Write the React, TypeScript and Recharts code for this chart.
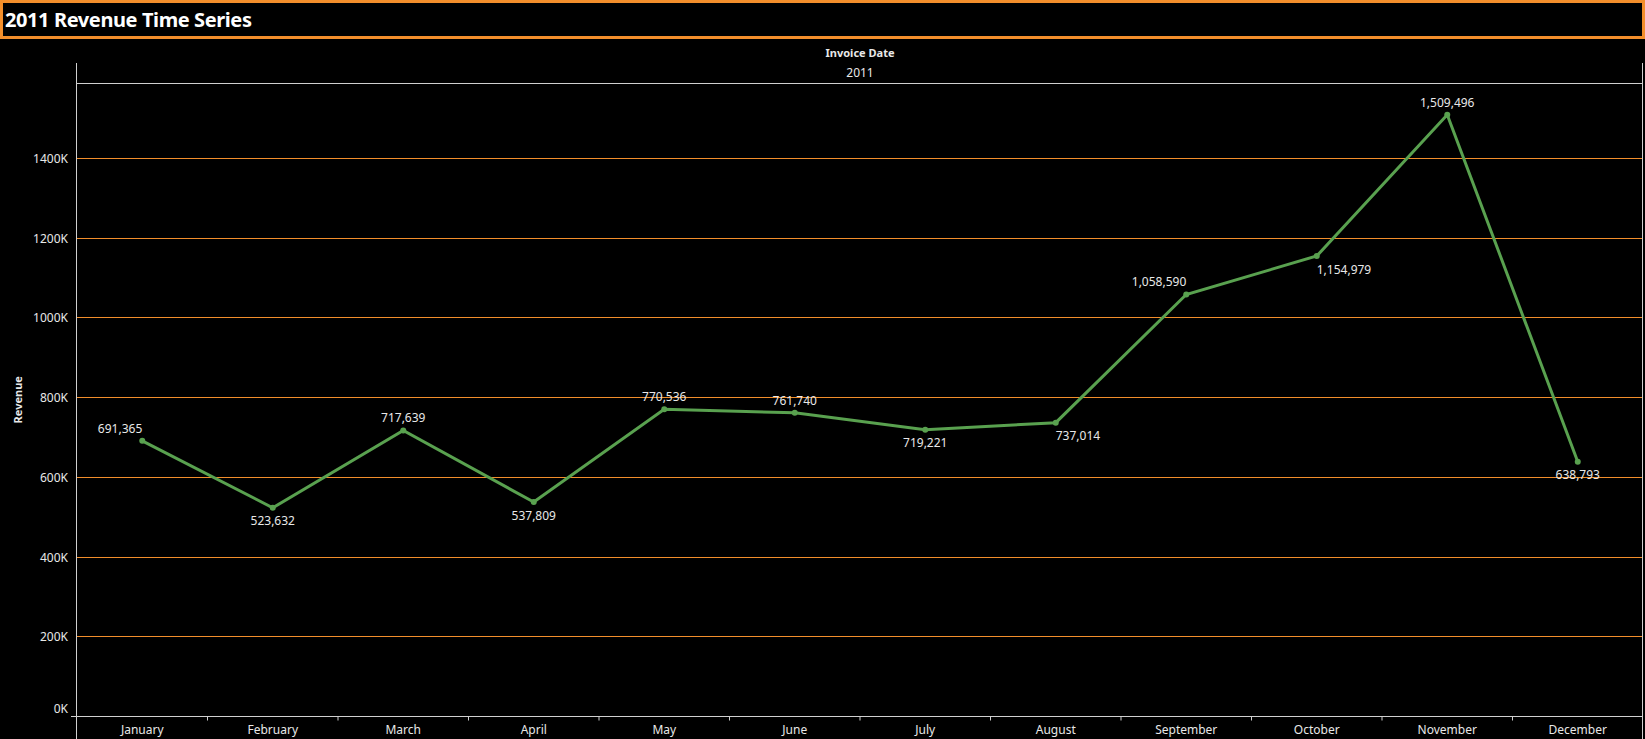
import React from "react";
import { CartesianGrid, LabelList, Line, LineChart, XAxis, YAxis } from "recharts";

const months = ["January", "February", "March", "April", "May", "June", "July", "August", "September", "October", "November", "December"];
const revenue = [691365, 523632, 717639, 537809, 770536, 761740, 719221, 737014, 1058590, 1154979, 1509496, 638793];
const yTicks = [0, 200000, 400000, 600000, 800000, 1000000, 1200000, 1400000];
const yMax = 1589000;

// where each value label sits relative to its point (side, anchor)
const labelSide = ["up", "down", "up", "down", "up", "up", "down", "down", "up", "down", "up", "down"];
const labelAnchor = ["end", "middle", "middle", "middle", "middle", "middle", "middle", "start", "end", "start", "middle", "middle"];

const chartData = months.map((month, i) => ({ month, revenue: revenue[i] }));

const W = 1645;
const H = 739;
const FONT = "'Noto Sans', sans-serif";
const ORANGE = "#F28E2B";
const GREEN = "#59A14F";
const AXIS = "#d0d0d0";
const TEXT = "#e8e8e8";
const BAND = (W - 77 - 2) / months.length;

const XTick = (props: any) => {
  const { x, y, payload, index } = props;
  return (
    <g>
      <text x={x} y={y + 13} textAnchor="middle" dominantBaseline="central" fill={TEXT} fontSize={12} fontFamily={FONT}>
        {payload.value}
      </text>
      {index < months.length - 1 && <line x1={x + BAND / 2} x2={x + BAND / 2} y1={y} y2={y + 4} stroke={AXIS} />}
    </g>
  );
};

const YTick = (props: any) => {
  const { x, y, payload } = props;
  const zero = payload.value === 0;
  return (
    <g>
      <text x={x - 9} y={zero ? y - 8 : y} textAnchor="end" dominantBaseline="central" fill={TEXT} fontSize={12} fontFamily={FONT}>
        {`${payload.value / 1000}K`}
      </text>
      {zero && <line x1={x - 6} x2={x} y1={y} y2={y} stroke={AXIS} />}
    </g>
  );
};

const YTitle = (props: any) => {
  const { viewBox } = props;
  const cy = viewBox.y + viewBox.height / 2;
  return (
    <text x={17} y={cy} transform={`rotate(-90, 17, ${cy})`} textAnchor="middle" dominantBaseline="central" fill={TEXT} fontSize={11} fontWeight={700} fontFamily={FONT}>
      Revenue
    </text>
  );
};

const ValueLabel = (props: any) => {
  const { x, y, value, index } = props;
  const up = labelSide[index] === "up";
  return (
    <text x={x} y={up ? y - 12.5 : y + 13} textAnchor={labelAnchor[index]} dominantBaseline="central" fill={TEXT} fontSize={12} fontFamily={FONT}>
      {Number(value).toLocaleString("en-US")}
    </text>
  );
};

const frameLine = (style: React.CSSProperties): React.CSSProperties => ({ position: "absolute", background: AXIS, ...style });

export default function App() {
  return (
    <div style={{ position: "absolute", left: 0, top: 0, width: W, height: H, background: "#000", fontFamily: FONT, overflow: "hidden" }}>
      <style>{`.recharts-cartesian-grid line, .recharts-cartesian-axis-line { shape-rendering: crispEdges; }`}</style>
      {/* Title */}
      <div
        style={{
          position: "absolute", left: 0, top: 0, width: W, height: 39, boxSizing: "border-box",
          border: `3px solid ${ORANGE}`, color: "#fff", fontSize: 20, fontWeight: 700,
          lineHeight: "33px", paddingLeft: 2, letterSpacing: -0.4,
        }}
      >
        2011 Revenue Time Series
      </div>

      {/* Column header */}
      <div style={{ position: "absolute", left: 77, width: 1566, top: 44, textAlign: "center", color: TEXT, fontSize: 11, fontWeight: 700, lineHeight: "17px" }}>
        Invoice Date
      </div>
      <div style={{ position: "absolute", left: 77, width: 1566, top: 64, textAlign: "center", color: TEXT, fontSize: 12, lineHeight: "18px" }}>
        2011
      </div>

      <div style={{ position: "absolute", left: 0, top: 0 }}>
        <LineChart width={W} height={H} data={chartData} margin={{ top: 83, right: 2, bottom: 0, left: 0 }}>
          <CartesianGrid stroke={ORANGE} vertical={false} horizontal={true} />
          <XAxis
            dataKey="month"
            height={22.5}
            axisLine={{ stroke: AXIS }}
            tickLine={false}
            tickSize={0}
            tickMargin={0}
            interval={0}
            padding={{ left: BAND / 2, right: BAND / 2 }}
            tick={<XTick />}
          />
          <YAxis
            width={77}
            domain={[0, yMax]}
            ticks={yTicks}
            axisLine={false}
            tickLine={false}
            tickSize={0}
            tickMargin={0}
            tick={<YTick />}
            label={<YTitle />}
          />
          <Line
            type="linear"
            dataKey="revenue"
            stroke={GREEN}
            strokeWidth={3}
            dot={{ r: 3, fill: GREEN, stroke: "none" }}
            activeDot={false}
            isAnimationActive={false}
          >
            <LabelList dataKey="revenue" content={<ValueLabel />} />
          </Line>
        </LineChart>
      </div>

      {/* Frame lines */}
      <div style={frameLine({ left: 76, top: 63, width: 1, height: H - 63 })} />
      <div style={frameLine({ left: 1642, top: 63, width: 1, height: H - 63 })} />
      <div style={frameLine({ left: 76, top: 83, width: 1567, height: 1 })} />
    </div>
  );
}
